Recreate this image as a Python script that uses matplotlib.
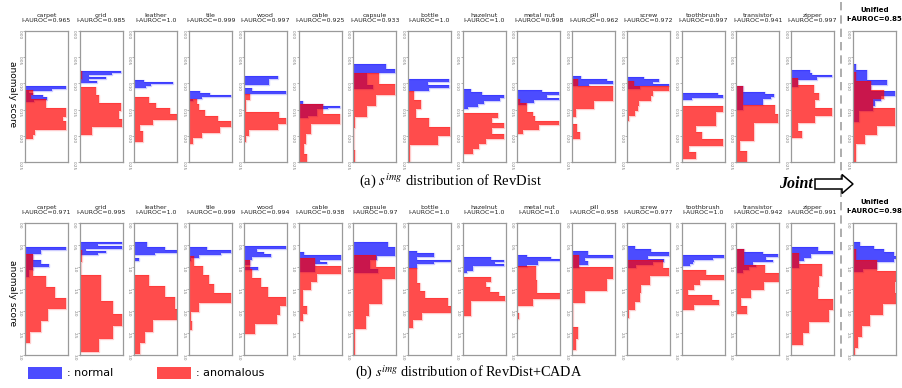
import numpy as np
import matplotlib
matplotlib.use('Agg')
import matplotlib.pyplot as plt
from matplotlib.patches import FancyArrow, Rectangle
from matplotlib.lines import Line2D

plt.rcParams['mathtext.fontset'] = 'stix'

# categories (last panel of each row is the unified model)
categories = ['carpet', 'grid', 'leather', 'tile', 'wood', 'cable', 'capsule', 'bottle',
              'hazelnut', 'metal_nut', 'pill', 'screw', 'toothbrush', 'transistor', 'zipper']
top_auroc = [0.965, 0.985, 1.0, 0.999, 0.997, 0.925, 0.933, 1.0, 1.0, 0.998,
             0.962, 0.972, 0.997, 0.941, 0.997, 0.85]
bot_auroc = [0.971, 0.995, 1.0, 0.999, 0.994, 0.938, 0.97, 1.0, 1.0, 1.0,
             0.958, 0.977, 1.0, 0.942, 0.991, 0.98]

# ---- (a) RevDist : histograms, bin start / bin width / counts (relative) ----
top_normal_start = [0.1056, 0.0763, 0.0929, 0.1145, 0.0865, 0.1336, 0.0636, 0.0916,
                    0.1113, 0.112, 0.0865, 0.0878, 0.1183, 0.1056, 0.075, 0.0636]
top_normal_width = [0.0042, 0.0038, 0.004, 0.004, 0.0055, 0.0032, 0.008, 0.0058,
                    0.0055, 0.005, 0.0048, 0.0045, 0.0047, 0.005, 0.0045, 0.01]
top_normal_counts = [
    [96, 62, 10, 19, 42, 52, 20],
    [95, 75, 22, 60, 22, 40],
    [22, 90, 38, 26],
    [25, 48, 98, 30, 10],
    [79, 59, 59, 0, 19, 98],
    [10, 10, 58, 96, 69, 42, 42, 42, 42, 23],
    [77, 96, 31, 31, 31, 46],
    [96, 47, 96, 49],
    [19, 44, 96, 87, 50, 35, 12],
    [58, 96, 70, 96, 38, 19],
    [20, 82, 96, 40],
    [40, 75, 60, 97, 30],
    [84, 97, 25],
    [16, 16, 66, 88, 80, 62, 62, 16, 16],
    [45, 48, 96, 60, 16, 16, 16],
    [8, 33, 33, 78, 43, 98, 66, 50, 47, 14, 14],
]
top_anom_start = [0.1132, 0.0763, 0.126, 0.129, 0.1196, 0.14, 0.0802, 0.1145,
                  0.1565, 0.129, 0.091, 0.096, 0.1425, 0.1056, 0.089, 0.0782]
top_anom_width = [0.0085, 0.0153, 0.0108, 0.0108, 0.0115, 0.0095, 0.021, 0.0172,
                  0.0098, 0.0085, 0.0145, 0.0095, 0.0127, 0.0175, 0.0145, 0.0172]
top_anom_counts = [
    [19, 15, 48, 48, 96, 96, 88, 96, 96, 23, 19],
    [6, 0, 37, 44, 97, 91, 99, 29],
    [34, 50, 82, 99, 44, 14, 20, 20],
    [18, 24, 36, 66, 98, 72, 30, 9],
    [15, 5, 5, 82, 98, 79, 11, 6],
    [56, 56, 96, 96, 28, 28, 17, 17, 12, 12, 19, 19],
    [60, 96, 54, 32, 3, 2, 2, 3, 3],
    [13, 31, 19, 49, 98, 70, 4, 4],
    [82, 69, 96, 69, 96, 54, 38, 23],
    [6, 22, 22, 37, 41, 96, 50, 13],
    [13, 96, 96, 50, 10, 0, 12, 18],
    [17, 97, 62, 56, 29, 27, 19, 5],
    [97, 81, 81, 33, 48, 97, 18, 33],
    [16, 16, 90, 98, 41, 41, 9, 26, 26],
    [16, 53, 65, 57, 96, 57, 16, 26],
    [8, 43, 72, 47, 98, 98, 55, 27, 6, 6],
]

# ---- (b) RevDist+CADA ----
bot_normal_start = [0.547, 0.433, 0.433, 0.554, 0.53, 0.668, 0.44, 0.63,
                    0.782, 0.72, 0.645, 0.53, 0.737, 0.59, 0.547, 0.44]
bot_normal_width = [0.076, 0.05, 0.06, 0.06, 0.06, 0.055, 0.1, 0.05,
                    0.05, 0.045, 0.075, 0.07, 0.05, 0.06, 0.08, 0.075]
bot_normal_counts = [
    [96, 37, 19, 19, 38, 56, 19, 10, 10],
    [99, 42, 99, 15, 60, 42],
    [29, 29, 70, 99, 48, 0, 10],
    [42, 98, 74, 22, 5],
    [98, 31, 47, 64, 20, 15, 15, 0, 33],
    [12, 98, 98, 51, 65, 39, 39, 39],
    [80, 98, 98, 56, 40, 40, 58],
    [21, 61, 61, 21, 99, 61, 21, 21],
    [65, 96, 75, 96, 23, 23, 9],
    [22, 78, 99, 48, 48, 22],
    [38, 96, 30, 38, 15],
    [18, 57, 98, 49, 87, 61, 22],
    [99, 74, 29, 26, 20],
    [18, 62, 98, 70, 86, 40, 45, 30, 15],
    [62, 98, 46, 30, 18, 18],
    [16, 48, 73, 95, 99, 95, 56, 56, 24],
]
bot_anom_start = [0.698, 0.607, 1.177, 0.76, 0.835, 0.797, 0.72, 1.025,
                  1.23, 0.987, 0.736, 0.835, 1.063, 0.59, 0.683, 0.59]
bot_anom_width = [0.253, 0.29, 0.258, 0.21, 0.21, 0.18, 0.28, 0.17,
                  0.11, 0.15, 0.27, 0.19, 0.115, 0.185, 0.26, 0.25]
bot_anom_counts = [
    [19, 19, 48, 69, 96, 54, 37, 12],
    [5, 2, 50, 50, 78, 99, 78, 44],
    [33, 71, 94, 99, 44, 25, 13],
    [12, 32, 46, 58, 98, 24, 4, 6],
    [15, 19, 39, 56, 98, 83, 76, 27],
    [39, 98, 42, 29, 10, 10, 20, 10],
    [54, 98, 66, 66, 36, 30, 3, 3, 5],
    [22, 22, 29, 40, 94, 99, 33, 12],
    [65, 54, 64, 85, 98, 19, 19, 19],
    [44, 44, 46, 46, 99, 36, 0, 4],
    [15, 96, 82, 31, 3, 3, 13, 10],
    [83, 98, 55, 34, 30, 20, 6],
    [58, 99, 44, 30, 16, 71, 86, 30],
    [18, 18, 66, 99, 64, 34, 10, 26],
    [18, 72, 66, 62, 98, 88, 41, 28],
    [8, 56, 99, 97, 99, 70, 40, 22, 12, 4],
]

top_ticks = [0.0, 0.05, 0.10, 0.15, 0.20, 0.25]
top_ticklabels = ['0.00', '0.05', '0.10', '0.15', '0.20', '0.25']
bot_ticks = [0.0, 0.5, 1.0, 1.5, 2.0, 2.5, 3.0]
bot_ticklabels = ['0.0', '0.5', '1.0', '1.5', '2.0', '2.5', '3.0']

W, H = 902, 388
fig = plt.figure(figsize=(W / 100, H / 100), dpi=100)


def fx(px):
    return px / W


def fy(py):
    return 1 - py / H


def draw_hist(ax, start, width, counts, color):
    edges = start + width * np.arange(len(counts) + 1)
    ax.stairs(counts, edges, orientation='horizontal', baseline=0, fill=True,
              color=color, alpha=0.7, lw=0)
    ax.stairs(counts, edges, orientation='horizontal', baseline=0, fill=False,
              color=color, alpha=0.2, lw=1.0)


lefts = [25 + 54.71 * i for i in range(15)] + [853]
rows = [
    (31, 162, top_auroc, top_normal_start, top_normal_width, top_normal_counts,
     top_anom_start, top_anom_width, top_anom_counts, top_ticks, top_ticklabels),
    (223, 355, bot_auroc, bot_normal_start, bot_normal_width, bot_normal_counts,
     bot_anom_start, bot_anom_width, bot_anom_counts, bot_ticks, bot_ticklabels),
]

for (ytop, ybot, auroc, ns, nw, nc, ast, aw, ac, ticks, tlabels) in rows:
    for i in range(16):
        ax = fig.add_axes([fx(lefts[i]), fy(ybot), fx(43), (ybot - ytop) / H])
        draw_hist(ax, ns[i], nw[i], nc[i], 'blue')
        draw_hist(ax, ast[i], aw[i], ac[i], 'red')
        ax.set_xlim(0, 100)
        ax.set_ylim(ticks[-1], ticks[0])
        ax.set_xticks([])
        ax.set_yticks(ticks)
        ax.set_yticklabels(tlabels)
        ax.tick_params(axis='y', length=1.5, width=0.4, pad=1, labelsize=3.0,
                       colors='#777777', labelrotation=270)
        for sp in ax.spines.values():
            sp.set_color('#9a9a9a')
            sp.set_linewidth(0.9)
        if i < 15:
            ax.set_title(f'{categories[i]}\nI-AUROC={auroc[i]}', fontsize=4.5,
                         pad=6.5, linespacing=1.05, color='#222222')
        else:
            ax.set_title(f'Unified\nI-AUROC={auroc[i]}', fontsize=5.0,
                         fontweight='bold', pad=7, linespacing=1.6)

# y labels
for yc in (94, 293):
    fig.text(fx(12), fy(yc), 'anomaly score', rotation=270, ha='center',
             va='center', fontsize=6.5)

# captions
fig.text(fx(450), fy(181), r'(a) $s^{img}$ distribution of RevDist',
         fontfamily='Liberation Serif', fontsize=10.5, ha='center', va='center')
fig.text(fx(469), fy(373), r'(b) $s^{img}$ distribution of RevDist+CADA',
         fontfamily='Liberation Serif', fontsize=10.3, ha='center', va='center')

# dashed separator, Joint arrow
fig.add_artist(Line2D([fx(841), fx(841)], [fy(2), fy(362)], transform=fig.transFigure,
                      color='#a0a0a0', lw=1.2, ls=(0, (5, 3))))
fig.text(fx(796), fy(184), 'Joint', fontfamily='Liberation Serif', fontweight='bold',
         fontstyle='italic', fontsize=11.5, ha='center', va='center')
fig.add_artist(FancyArrow(8.15, (H - 184) / 100, 0.38, 0, width=0.10, head_width=0.19,
                          head_length=0.11, length_includes_head=True, fc='white',
                          ec='black', lw=1.1, transform=fig.dpi_scale_trans, zorder=5))

# legend
fig.add_artist(Rectangle((fx(28), fy(379)), fx(34), 12 / H, transform=fig.transFigure,
                         fc='blue', alpha=0.7, lw=0))
fig.text(fx(67), fy(373), ': normal', fontsize=8, va='center')
fig.add_artist(Rectangle((fx(157), fy(379)), fx(34), 12 / H, transform=fig.transFigure,
                         fc='red', alpha=0.7, lw=0))
fig.text(fx(196), fy(373), ': anomalous', fontsize=8, va='center')

fig.savefig('out.png', dpi=100)
